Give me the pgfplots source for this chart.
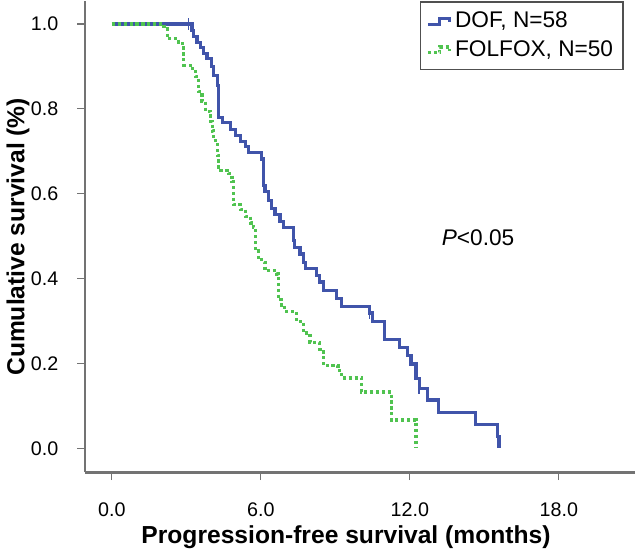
\documentclass[border=0pt]{standalone}
\usepackage{fontspec}
\setmainfont{Liberation Sans}
\usepackage{pgfplots}
\pgfplotsset{compat=1.18}
\definecolor{dofblue}{RGB}{64,84,170}
\definecolor{folgreen}{RGB}{80,195,80}
\definecolor{axgray}{RGB}{115,115,115}
\begin{document}
\begin{tikzpicture}
\begin{axis}[
  scale only axis, width=279pt, height=239pt,
  xmin=-1.08, xmax=21.05, ymin=-0.056, ymax=1.053,
  axis x line=bottom, axis y line=left,
  axis line style={-, axgray, line width=1.5pt},
  xtick={0,6,12,18}, ytick={0,0.2,0.4,0.6,0.8,1.0},
  xticklabels={0.0,6.0,12.0,18.0},
  yticklabel style={/pgf/number format/fixed, /pgf/number format/fixed zerofill, /pgf/number format/precision=1, xshift=-6pt},
  /pgf/number format/assume math mode=true,
  tick align=outside, major tick length=4pt,
  tick style={axgray, line width=0.6pt},
  ticklabel style={font=\fontsize{10}{12}\selectfont},
  xticklabel style={yshift=-8pt},
  xlabel={Progression-free survival (months)},
  ylabel={Cumulative survival (\%)},
  xlabel style={font=\fontsize{12.5}{15}\selectfont\bfseries, at={(axis description cs:0.5,0)}, anchor=center, yshift=-33pt, xshift=-7pt},
  ylabel style={font=\fontsize{12.5}{15}\selectfont\bfseries, at={(axis description cs:0,0.5)}, anchor=center, yshift=34pt},
  legend style={at={(rel axis cs:0.98,1)}, anchor=north east, draw=axgray!70!black, line width=0.6pt, font=\fontsize{11.5}{13}\selectfont, row sep=1pt, inner sep=3pt},
  legend image code/.code={\draw[#1] (3pt,-1.5pt) -- (9pt,-1.5pt) -- (9pt,1.5pt) -- (14pt,1.5pt) -- (14pt,-0.5pt);},
  legend cell align=left,
  clip=false,
]
\addplot[const plot mark left, dofblue, line width=1.6pt] coordinates {
(0,1.0) (3.23,0.984) (3.30,0.970) (3.43,0.957) (3.57,0.944) (3.70,0.931)
(3.83,0.918) (4.03,0.900) (4.10,0.879) (4.24,0.856) (4.30,0.779) (4.44,0.767)
(4.77,0.752) (4.97,0.738) (5.17,0.724) (5.37,0.711) (5.50,0.698) (6.04,0.682)
(6.10,0.620) (6.17,0.605) (6.31,0.585) (6.44,0.566) (6.57,0.551) (6.77,0.535)
(6.91,0.520) (7.31,0.489) (7.37,0.473) (7.58,0.458) (7.71,0.439) (7.80,0.423)
(8.24,0.408) (8.38,0.392) (8.51,0.373) (9.05,0.354) (9.25,0.334) (10.38,0.319)
(10.51,0.299) (10.98,0.257) (11.58,0.237) (11.92,0.218) (12.05,0.199)
(12.25,0.164) (12.38,0.141) (12.72,0.114) (13.15,0.085) (14.66,0.056)
(15.52,0.029) (15.59,0.0) (15.59,0.0)
};
\addlegendentry{DOF, N=58}
\addplot[const plot mark left, folgreen, line width=1.6pt, dash pattern=on 1.6pt off 1.4pt] coordinates {
(0,1.0) (2.10,0.988) (2.23,0.965) (2.70,0.957) (2.83,0.949) (2.90,0.903)
(3.17,0.895) (3.37,0.876) (3.50,0.841) (3.63,0.817) (3.77,0.794) (3.97,0.771)
(4.04,0.748) (4.10,0.725) (4.24,0.690) (4.30,0.655) (4.70,0.647) (4.84,0.628)
(4.90,0.574) (5.17,0.563) (5.37,0.547) (5.57,0.531) (5.70,0.520) (5.77,0.466)
(5.90,0.450) (6.04,0.439) (6.17,0.419) (6.64,0.411) (6.71,0.350) (6.84,0.338)
(6.97,0.323) (7.44,0.299) (7.71,0.272) (7.98,0.249) (8.38,0.234) (8.51,0.195)
(9.11,0.183) (9.25,0.166) (10.05,0.133) (11.25,0.067) (12.25,0.0) (12.25,0.0)
};
\addlegendentry{FOLFOX, N=50}
\addplot[only marks, mark=|, mark size=3pt, dofblue, line width=0.8pt, forget plot] coordinates {
(3.09,1.0) (10.38,0.319) (12.38,0.141)
};
\node[font=\fontsize{11.5}{13}\selectfont] at (axis cs:14.75,0.497) {\textit{P}<0.05};
\end{axis}
\end{tikzpicture}
\end{document}
